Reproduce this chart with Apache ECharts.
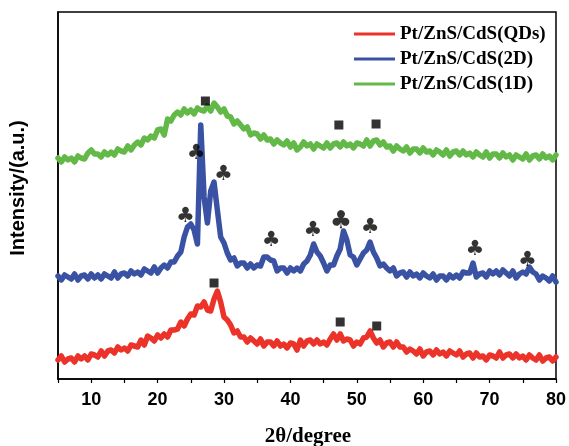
<!DOCTYPE html>
<html><head><meta charset="utf-8">
<script src="https://cdn.jsdelivr.net/npm/echarts@6/dist/echarts.min.js"></script>
<style>html,body{margin:0;padding:0;background:#fff}#c{width:569px;height:446px}</style>
</head><body><div id="c"></div>
<script>
const twoTheta = [5,5.5,6,6.5,7,7.5,8,8.5,9,9.5,10,10.5,11,11.5,12,12.5,13,13.5,14,14.5,15,15.5,16,16.5,17,17.5,18,18.5,19,19.5,20,20.5,21,21.5,22,22.5,23,23.5,24,24.5,25,25.5,26,26.5,27,27.5,28,28.5,29,29.5,30,30.5,31,31.5,32,32.5,33,33.5,34,34.5,35,35.5,36,36.5,37,37.5,38,38.5,39,39.5,40,40.5,41,41.5,42,42.5,43,43.5,44,44.5,45,45.5,46,46.5,47,47.5,48,48.5,49,49.5,50,50.5,51,51.5,52,52.5,53,53.5,54,54.5,55,55.5,56,56.5,57,57.5,58,58.5,59,59.5,60,60.5,61,61.5,62,62.5,63,63.5,64,64.5,65,65.5,66,66.5,67,67.5,68,68.5,69,69.5,70,70.5,71,71.5,72,72.5,73,73.5,74,74.5,75,75.5,76,76.5,77,77.5,78,78.5,79,79.5,80];

const seriesNames = ['Pt/ZnS/CdS(QDs)', 'Pt/ZnS/CdS(2D)', 'Pt/ZnS/CdS(1D)'];

const qdsValues = [19,23,17,20,21,17,23,20,23,19,
25,24,22,28,23,28,29,26,32,29,
31,28,34,33,32,39,34,43,41,38,
44,41,45,42,49,49,50,57,53,60,
65,64,73,72,77,69,68,80,88,77,
62,59,54,46,48,42,42,37,41,38,
35,40,33,37,37,33,38,33,35,31,
36,35,29,39,33,38,39,35,39,35,
37,34,40,45,39,45,38,40,39,33,
37,35,41,42,48,41,36,39,32,36,
37,32,37,32,32,27,30,28,25,30,
23,27,28,24,29,25,27,23,28,26,
24,28,22,25,26,21,26,22,23,19,
24,23,21,27,21,24,25,21,25,21,
23,19,24,21,19,24,18,21,22,18,
22];

const twoDValues = [103,99,104,102,100,105,99,103,104,100,
105,101,104,100,105,103,101,107,101,105,
106,103,108,105,107,104,110,108,106,112,
106,111,114,111,117,117,123,127,142,152,
155,149,135,254,182,156,188,197,169,142,
136,126,119,121,113,116,116,111,115,111,
114,113,122,122,119,118,108,111,111,106,
111,108,111,108,115,118,124,135,127,123,
116,108,114,114,123,130,148,139,124,122,
114,120,126,129,137,127,121,113,115,111,
108,111,103,106,107,102,107,103,105,101,
106,103,101,105,99,103,103,99,104,101,
104,101,107,106,106,116,102,105,106,102,
108,105,108,104,109,106,103,108,101,105,
107,105,112,107,105,99,103,101,98,103,
97];

const oneDValues = [221,217,222,219,221,217,223,221,220,226,
229,225,225,222,227,224,227,224,230,228,
227,233,229,234,237,234,241,239,243,241,
249,250,244,260,258,264,267,264,270,266,
269,265,271,269,268,273,268,276,272,267,
270,263,262,255,258,254,250,252,244,246,
245,240,244,239,240,235,239,236,234,238,
232,236,229,232,237,233,235,230,235,233,
231,236,231,235,236,232,237,233,235,231,
236,235,233,239,233,238,239,234,237,232,
233,228,233,230,228,232,226,230,230,226,
231,227,228,224,229,227,224,229,223,227,
228,224,228,224,226,222,227,224,222,227,
221,225,225,221,226,222,224,219,224,222,
220,225,219,223,224,220,225,221,223,219,
224];

// phase markers (■ and ♣) positions in data units
const squareX = [27.2, 47.3, 52.9, 28.5, 47.5, 53.0];
const squareY = [278, 254, 255, 96, 57, 53];
const clubX = [24.2, 25.8, 29.9, 37.1, 43.4, 47.6, 52.0, 67.8, 75.7];
const clubY = [164, 227, 206, 140, 150, 160, 153, 131, 120];

const xTicks = [10, 20, 30, 40, 50, 60, 70, 80];
const xTitle = '2θ/degree';
const yTitle = 'Intensity/(a.u.)';

const colors = ['#EC3329', '#3A52A3', '#62B948'];
const pairs = v => twoTheta.map((x, i) => [x, v[i]]);

const chart = echarts.init(document.getElementById('c'), null, {renderer: 'canvas'});
const sans = 'Liberation Sans, Arial, sans-serif';
const serif = 'Liberation Serif, Times New Roman, serif';

const lineSeries = [qdsValues, twoDValues, oneDValues].map((v, k) => ({
  name: seriesNames[k], type: 'line', data: pairs(v), showSymbol: false, symbol: 'none',
  lineStyle: {color: colors[k], width: 5.5, join: 'round', cap: 'round'}, itemStyle: {color: colors[k]}, z: 3 + k, animation: false
}));

chart.setOption({
  animation: false,
  grid: {left: 58, right: 11, top: 12, bottom: 67, show: true, borderColor: '#000', borderWidth: 1.5, backgroundColor: 'transparent'},
  legend: {
    data: seriesNames, orient: 'vertical', left: 354, top: 24, padding: 0, icon: 'rect', itemWidth: 41, itemHeight: 3, itemGap: 5,
    textStyle: {fontFamily: serif, fontWeight: 'bold', fontSize: 19, color: '#000', lineHeight: 20}
  },
  xAxis: {
    type: 'value', min: 5, max: 80, interval: 5,
    axisLine: {show: true, lineStyle: {color: '#000', width: 1.5}},
    axisTick: {show: true, inside: false, length: 4, lineStyle: {color: '#000', width: 1.2}},
    axisLabel: {show: true, margin: 12, fontFamily: sans, fontWeight: 'bold', fontSize: 18, color: '#000',
      formatter: v => xTicks.indexOf(v) >= 0 ? String(v) : ''},
    splitLine: {show: false}
  },
  yAxis: {
    type: 'value', min: 0, max: 367,
    axisLine: {show: true, lineStyle: {color: '#000', width: 1.5}},
    axisTick: {show: false}, axisLabel: {show: false}, splitLine: {show: false}
  },
  graphic: [
    {type: 'text', x: 308, y: 437, style: {text: xTitle, font: 'bold 21px ' + serif, fill: '#000', textAlign: 'center', textVerticalAlign: 'middle'}},
    {type: 'text', x: 18, y: 188, rotation: Math.PI / 2, style: {text: yTitle, font: 'bold 20px ' + sans, fill: '#000', textAlign: 'center', textVerticalAlign: 'middle'}}
  ],
  series: lineSeries.concat([
    {type: 'scatter', data: squareX.map((x, i) => [x, squareY[i]]), symbol: 'rect', symbolSize: [9, 9],
      itemStyle: {color: '#000'}, z: 10, silent: true},
    {type: 'scatter', data: clubX.map((x, i) => ({value: [x, clubY[i]], label: {fontSize: i === 5 ? 25 : 21}})),
      symbol: 'circle', symbolSize: 1, itemStyle: {color: 'rgba(0,0,0,0)'}, z: 10, silent: true,
      label: {show: true, position: 'inside', offset: [0, 2], formatter: '♣', color: '#000', fontFamily: 'DejaVu Sans', fontSize: 21}}
  ])
});
</script></body></html>
